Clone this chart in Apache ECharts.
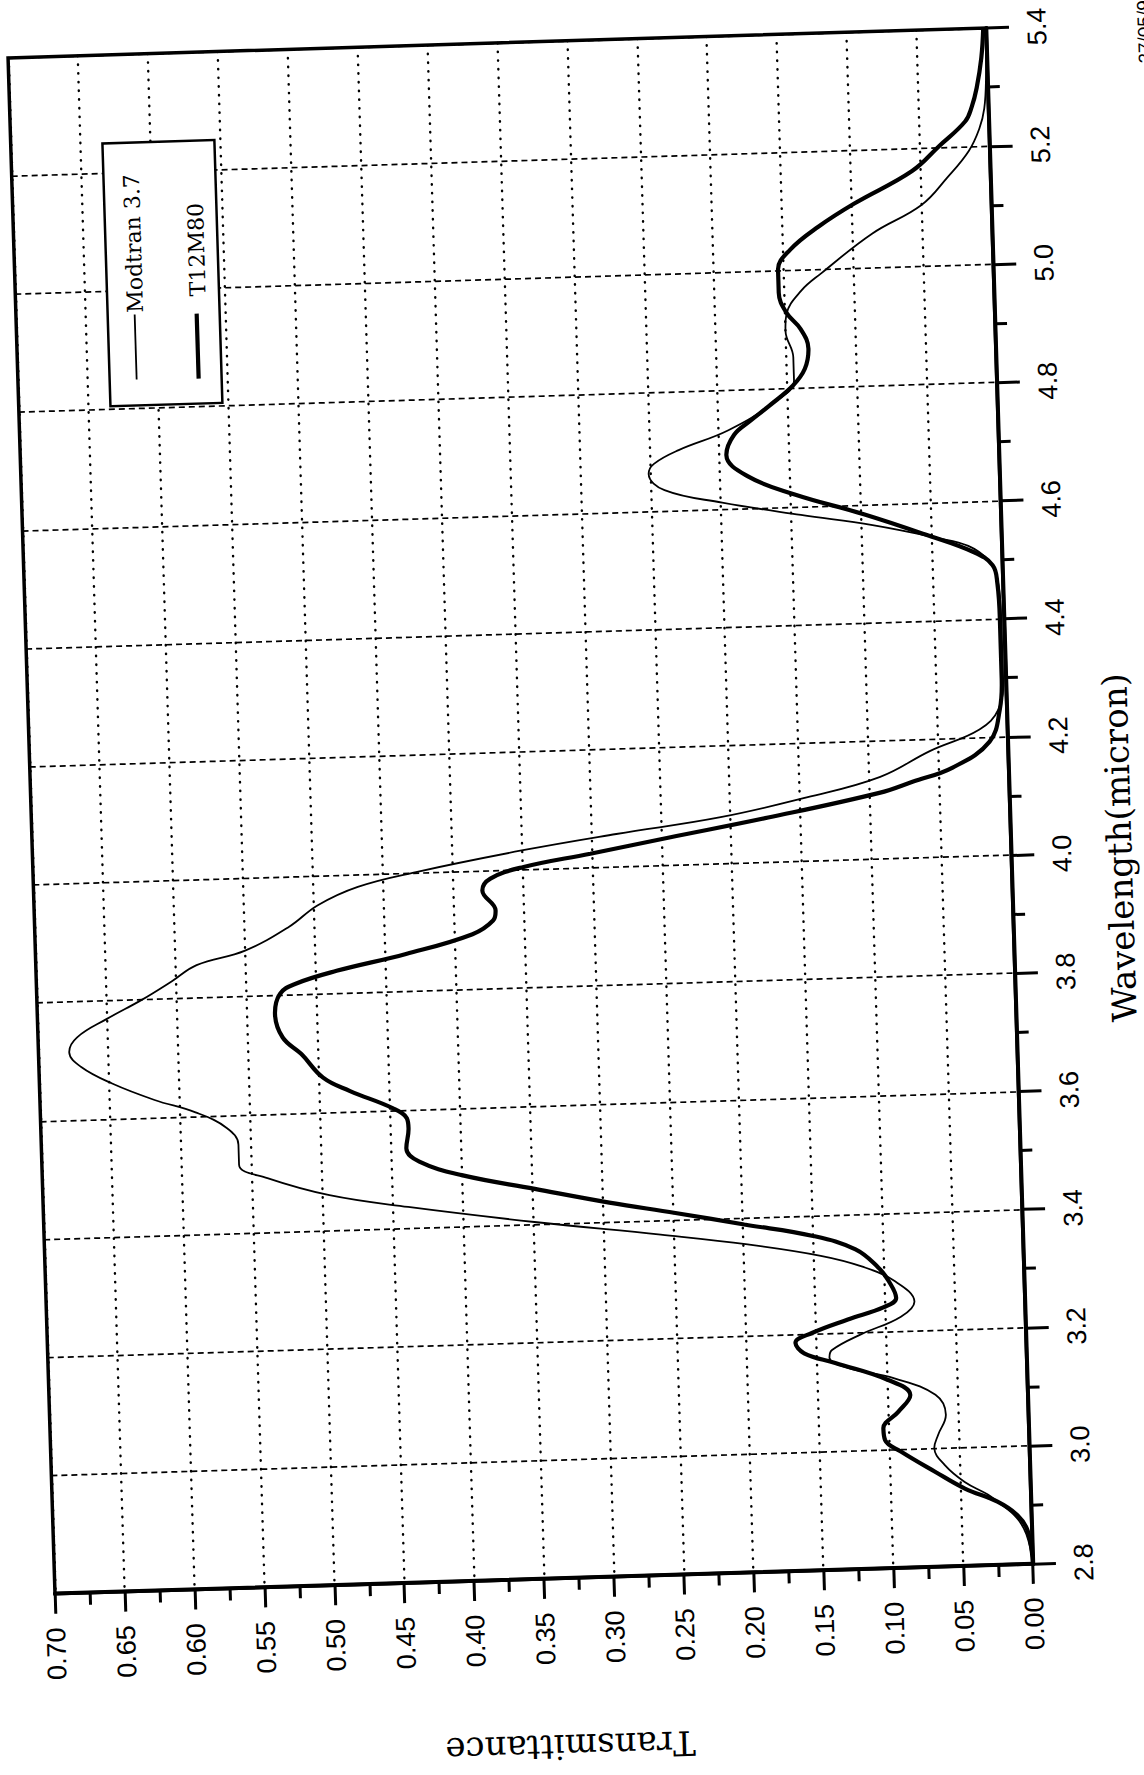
<!DOCTYPE html>
<html><head><meta charset="utf-8">
<script src="https://cdn.jsdelivr.net/npm/echarts@6/dist/echarts.min.js"></script>
<style>
html,body{margin:0;padding:0;background:#fff;width:1144px;height:1775px;overflow:hidden;}
#chart{position:absolute;left:0;top:0;width:1200px;height:1800px;transform:rotate(-1.75deg);transform-origin:520.5px 811px;}
</style></head><body><div id="chart"></div>
<script>
// ---- data ----
const seriesNames = ['Modtran 3.7', 'T12M80'];
const modtranWavelength = [2.800,2.850,2.880,2.907,2.920,2.942,2.972,3.001,3.023,3.057,3.091,3.121,3.141,3.159,3.172,3.197,3.225,3.250,3.286,3.312,3.332,3.355,3.376,3.404,3.436,3.460,3.492,3.516,3.550,3.579,3.607,3.630,3.660,3.690,3.715,3.740,3.770,3.800,3.830,3.856,3.878,3.916,3.951,3.980,4.002,4.033,4.056,4.079,4.108,4.139,4.180,4.214,4.247,4.300,4.400,4.470,4.500,4.525,4.540,4.565,4.586,4.611,4.635,4.663,4.680,4.702,4.733,4.776,4.814,4.853,4.898,4.926,4.965,4.994,5.058,5.104,5.149,5.193,5.230,5.264,5.320,5.400];
const modtranT = [0.000,0.004,0.011,0.024,0.031,0.047,0.061,0.068,0.065,0.059,0.066,0.095,0.128,0.141,0.139,0.118,0.089,0.079,0.093,0.116,0.145,0.197,0.259,0.349,0.439,0.495,0.539,0.559,0.559,0.567,0.589,0.618,0.648,0.670,0.678,0.672,0.650,0.625,0.603,0.585,0.550,0.518,0.497,0.468,0.426,0.350,0.282,0.207,0.145,0.092,0.056,0.020,0.006,0.002,0.002,0.004,0.010,0.024,0.046,0.092,0.143,0.199,0.240,0.251,0.247,0.229,0.193,0.161,0.145,0.145,0.150,0.149,0.138,0.123,0.086,0.050,0.031,0.015,0.007,0.003,0.001,0.000];
const t12Wavelength = [2.800,2.856,2.883,2.907,2.931,2.961,2.997,3.017,3.037,3.064,3.092,3.119,3.150,3.168,3.186,3.202,3.223,3.242,3.257,3.286,3.309,3.341,3.366,3.389,3.412,3.433,3.460,3.487,3.512,3.535,3.569,3.586,3.604,3.635,3.659,3.700,3.729,3.769,3.803,3.819,3.839,3.864,3.894,3.916,3.933,3.967,3.987,4.005,4.024,4.047,4.076,4.112,4.129,4.151,4.193,4.247,4.300,4.400,4.460,4.491,4.514,4.547,4.584,4.621,4.654,4.691,4.725,4.748,4.771,4.805,4.833,4.867,4.900,4.929,4.963,5.002,5.035,5.073,5.110,5.162,5.203,5.243,5.267,5.299,5.350,5.400];
const t12T = [0.000,0.003,0.010,0.024,0.047,0.068,0.092,0.103,0.104,0.093,0.084,0.100,0.137,0.159,0.165,0.153,0.127,0.101,0.092,0.097,0.104,0.120,0.150,0.199,0.248,0.295,0.348,0.400,0.430,0.439,0.437,0.438,0.448,0.478,0.497,0.512,0.525,0.530,0.526,0.515,0.485,0.435,0.387,0.372,0.370,0.379,0.373,0.349,0.301,0.245,0.173,0.093,0.069,0.040,0.013,0.005,0.003,0.003,0.004,0.007,0.020,0.055,0.098,0.147,0.180,0.195,0.189,0.177,0.164,0.146,0.137,0.134,0.139,0.149,0.154,0.154,0.145,0.124,0.098,0.056,0.036,0.017,0.012,0.008,0.004,0.002];
const wavelengthAxis = {min: 2.8, max: 5.4, interval: 0.2};
const transmittanceAxis = {min: 0, max: 0.70, interval: 0.05};
const wavelengthTitle = 'Wavelength(micron)';
const transmittanceTitle = 'Transmittance';
const stampText = '27/05/97';

// ---- chart ----
const pairs = (wl, t) => wl.map((w, i) => [t[i], w]);
const chart = echarts.init(document.getElementById('chart'), null, {renderer: 'svg', width: 1200, height: 1800});
const black = '#000';
const tickFont = {fontFamily: 'Liberation Sans', fontSize: 27, color: black};
const serif = 'DejaVu Serif';

chart.setOption({
  animation: false,
  backgroundColor: 'transparent',
  grid: {left: 31.3, top: 42.6, width: 978.4, height: 1536.6, show: true, borderColor: black, borderWidth: 3.5,
         containLabel: false, outerBoundsMode: 'none'},
  xAxis: {
    type: 'value', position: 'bottom', inverse: true,
    min: transmittanceAxis.min, max: transmittanceAxis.max, interval: transmittanceAxis.interval,
    axisLine: {show: true, onZero: false, lineStyle: {color: black, width: 4}},
    axisTick: {show: true, inside: false, length: 20, lineStyle: {color: black, width: 3}},
    minorTick: {show: true, splitNumber: 2, length: 12, lineStyle: {color: black, width: 3}},
    axisLabel: Object.assign({rotate: 90, margin: 60, align: 'center', verticalAlign: 'middle',
                formatter: v => v.toFixed(2), showMinLabel: true, showMaxLabel: true}, tickFont),
    splitLine: {show: true, lineStyle: {color: black, width: 2.4, type: [0.5, 8.2], cap: 'round'}}
  },
  yAxis: {
    type: 'value', position: 'right',
    min: wavelengthAxis.min, max: wavelengthAxis.max, interval: wavelengthAxis.interval,
    axisLine: {show: true, onZero: false, lineStyle: {color: black, width: 4}},
    axisTick: {show: true, inside: false, length: 23, lineStyle: {color: black, width: 3}},
    minorTick: {show: true, splitNumber: 2, length: 12, lineStyle: {color: black, width: 3}},
    axisLabel: Object.assign({rotate: 90, margin: 51, align: 'center', verticalAlign: 'middle',
                formatter: v => v.toFixed(1), showMinLabel: true, showMaxLabel: true}, tickFont),
    splitLine: {show: true, lineStyle: {color: black, width: 1.7, type: [6, 4]}}
  },
  series: [
    {name: seriesNames[0], type: 'line', data: pairs(modtranWavelength, modtranT), smooth: 0.4,
     showSymbol: false, symbol: 'none', lineStyle: {color: black, width: 1.8}, z: 3},
    {name: seriesNames[1], type: 'line', data: pairs(t12Wavelength, t12T), smooth: 0.4,
     showSymbol: false, symbol: 'none', lineStyle: {color: black, width: 4.2}, z: 4}
  ],
  graphic: [
    {type: 'text', x: 1118, y: 866, rotation: Math.PI / 2,
     style: {text: wavelengthTitle, font: '34px "' + serif + '"', fill: black, align: 'center', verticalAlign: 'middle', textAlign: 'center', textVerticalAlign: 'middle'}},
    {type: 'text', x: 542, y: 1748, rotation: Math.PI,
     style: {text: transmittanceTitle, font: '34px "' + serif + '"', fill: black, align: 'center', verticalAlign: 'middle', textAlign: 'center', textVerticalAlign: 'middle'}},
    {type: 'text', x: 1168, y: 83, rotation: Math.PI / 2,
     style: {text: stampText, font: '19px "Liberation Sans"', fill: black, align: 'left', verticalAlign: 'middle', textAlign: 'left', textVerticalAlign: 'middle'}},
    {type: 'rect', z: 100, shape: {x: 123, y: 131, width: 112, height: 263},
     style: {fill: '#fff', stroke: black, lineWidth: 2.5}},
    {type: 'line', z: 101, shape: {x1: 150, y1: 303, x2: 150, y2: 368}, style: {stroke: black, lineWidth: 1.8}},
    {type: 'line', z: 101, shape: {x1: 212, y1: 304, x2: 212, y2: 369}, style: {stroke: black, lineWidth: 4.2}},
    {type: 'text', z: 101, x: 151, y: 232, rotation: Math.PI / 2,
     style: {text: seriesNames[0], font: '22px "' + serif + '"', fill: black, align: 'center', verticalAlign: 'middle', textAlign: 'center', textVerticalAlign: 'middle'}},
    {type: 'text', z: 101, x: 214, y: 240, rotation: Math.PI / 2,
     style: {text: seriesNames[1], font: '22px "' + serif + '"', fill: black, align: 'center', verticalAlign: 'middle', textAlign: 'center', textVerticalAlign: 'middle'}}
  ]
});
</script>
</body></html>
